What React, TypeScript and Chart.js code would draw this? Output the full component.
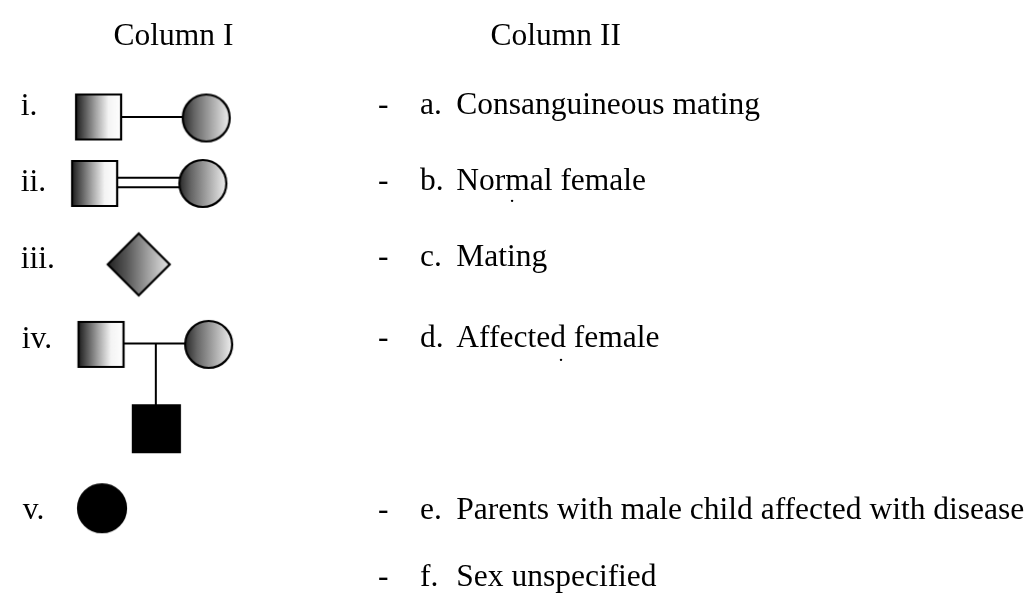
import React, { useEffect, useRef } from "react";
import { Chart, registerables } from "chart.js";

Chart.register(...registerables);

// ---- Text content ----
const headerTexts = ["Column I", "Column II"];
const headerX = [166, 490];
const headerY = [35, 35];

const rowLabels = ["i.", "ii.", "iii.", "iv.", "v."];
const rowLabelX = [10, 10, 10, 11, 12];
const rowLabelY = [108, 187, 267, 350, 527];

const answerLetters = ["a.", "b.", "c.", "d.", "e.", "f."];
const answerTexts = [
  "Consanguineous mating",
  "Normal female",
  "Mating",
  "Affected female",
  "Parents with male child affected with disease",
  "Sex unspecified",
];
const answerY = [107, 186, 265, 349, 527, 597];
const dashX = 375;
const letterX = 418;
const textX = 455;

// small scan specks in the reference
const speckX = [512, 562];
const speckY = [197, 362];

// ---- Pedigree symbols (diagram units) ----
const shadedSquares = [
  { x: 89.5, y: 110 },
  { x: 85.5, y: 179 },
  { x: 92, y: 346 },
];
const shadedCircles = [
  { x: 199.5, y: 111 },
  { x: 196, y: 179 },
  { x: 202, y: 346 },
];
const shadedDiamonds = [{ x: 130.5, y: 263 }];
const blackSquares = [{ x: 148.5, y: 433.5 }];
const blackCircles = [{ x: 93, y: 516 }];

const matingLineI = [{ x: 111, y: 110 }, { x: 177, y: 110 }];
const consangUpper = [{ x: 107, y: 173 }, { x: 174, y: 173 }];
const consangLower = [{ x: 107, y: 183 }, { x: 174, y: 183 }];
const matingLineIV = [{ x: 114, y: 345 }, { x: 179, y: 345 }];
const descentLine = [{ x: 148, y: 345 }, { x: 148, y: 411 }];

const FONT = '31.5px "Liberation Serif", "Times New Roman", serif';

function makeSymbol(kind: "square" | "circle" | "diamond", size: number, black: boolean): HTMLCanvasElement {
  const pad = 3;
  const c = document.createElement("canvas");
  c.width = size + pad * 2;
  c.height = size + pad * 2;
  const ctx = c.getContext("2d")!;
  const x0 = pad, y0 = pad, s = size;
  let fill: string | CanvasGradient = "#000";
  if (!black) {
    const g = ctx.createLinearGradient(x0, 0, x0 + s, 0);
    if (kind === "square") {
      g.addColorStop(0, "#1e1e1e");
      g.addColorStop(0.18, "#555");
      g.addColorStop(0.45, "#a8a8a8");
      g.addColorStop(0.72, "#f4f4f4");
      g.addColorStop(1, "#ffffff");
    } else if (kind === "circle") {
      g.addColorStop(0, "#2a2a2a");
      g.addColorStop(0.25, "#666");
      g.addColorStop(0.6, "#a5a5a5");
      g.addColorStop(0.9, "#dcdcdc");
      g.addColorStop(1, "#eeeeee");
    } else {
      g.addColorStop(0, "#222");
      g.addColorStop(0.3, "#555");
      g.addColorStop(0.65, "#a0a0a0");
      g.addColorStop(1, "#e6e6e6");
    }
    fill = g;
  }
  ctx.beginPath();
  if (kind === "square") {
    ctx.rect(x0, y0, s, s);
  } else if (kind === "circle") {
    ctx.arc(x0 + s / 2, y0 + s / 2, s / 2, 0, Math.PI * 2);
  } else {
    ctx.moveTo(x0 + s / 2, y0);
    ctx.lineTo(x0 + s, y0 + s / 2);
    ctx.lineTo(x0 + s / 2, y0 + s);
    ctx.lineTo(x0, y0 + s / 2);
    ctx.closePath();
  }
  ctx.fillStyle = fill;
  ctx.fill();
  ctx.lineWidth = 2.2;
  ctx.strokeStyle = "#000";
  ctx.stroke();
  return c;
}

const textPlugin = {
  id: "diagramText",
  afterDraw(chart: any) {
    const ctx = chart.ctx as CanvasRenderingContext2D;
    const xs = chart.scales.x;
    const ys = chart.scales.y;
    ctx.save();
    ctx.font = FONT;
    ctx.fillStyle = "#000";
    ctx.textBaseline = "alphabetic";
    headerTexts.forEach((t, i) => {
      ctx.textAlign = i === 0 ? "center" : "left";
      ctx.fillText(t, xs.getPixelForValue(headerX[i]), ys.getPixelForValue(headerY[i]));
    });
    ctx.textAlign = "left";
    rowLabels.forEach((t, i) => {
      ctx.fillText(t, xs.getPixelForValue(rowLabelX[i]), ys.getPixelForValue(rowLabelY[i]));
    });
    answerTexts.forEach((t, i) => {
      const y = ys.getPixelForValue(answerY[i]);
      ctx.fillText("-", xs.getPixelForValue(dashX), y);
      ctx.fillText(answerLetters[i], xs.getPixelForValue(letterX), y);
      ctx.fillText(t, xs.getPixelForValue(textX), y);
    });
    // specks
    speckX.forEach((sx, i) => {
      ctx.beginPath();
      ctx.arc(xs.getPixelForValue(sx), ys.getPixelForValue(speckY[i]), 1.2, 0, Math.PI * 2);
      ctx.fill();
    });
    ctx.restore();
  },
};

export default function App() {
  const ref = useRef<HTMLCanvasElement>(null);
  useEffect(() => {
    document.body.style.margin = "0";
    const sq = makeSymbol("square", 45, false);
    const ci = makeSymbol("circle", 47, false);
    const di = makeSymbol("diamond", 62, false);
    const bsq = makeSymbol("square", 47, true);
    const bci = makeSymbol("circle", 48, true);
    const line = (data: { x: number; y: number }[]) => ({
      type: "line" as const,
      data,
      showLine: true,
      borderColor: "#000",
      borderWidth: 2,
      pointRadius: 0,
      fill: false,
    });
    const sym = (data: { x: number; y: number }[], img: HTMLCanvasElement) => ({
      type: "scatter" as const,
      data,
      pointStyle: img,
      pointRadius: 10,
      showLine: false,
    });
    const chart = new Chart(ref.current!, {
      type: "scatter",
      data: {
        datasets: [
          sym(shadedSquares, sq),
          sym(shadedCircles, ci),
          sym(shadedDiamonds, di),
          sym(blackSquares, bsq),
          sym(blackCircles, bci),
          line(matingLineI),
          line(consangUpper),
          line(consangLower),
          line(matingLineIV),
          line(descentLine),
        ] as any,
      },
      options: {
        animation: false,
        responsive: false,
        maintainAspectRatio: false,
        layout: { padding: 0 },
        plugins: { legend: { display: false }, tooltip: { enabled: false } },
        scales: {
          x: { type: "linear", min: 0, max: 1030, display: false },
          y: { type: "linear", min: 0, max: 605, reverse: true, display: false },
        },
      },
      plugins: [textPlugin],
    });
    return () => chart.destroy();
  }, []);
  return (
    <div style={{ position: "absolute", left: 0, top: 0, width: 1030, height: 605, background: "#fff" }}>
      <canvas ref={ref} width={1030} height={605} style={{ width: 1030, height: 605, display: "block" }} />
    </div>
  );
}
